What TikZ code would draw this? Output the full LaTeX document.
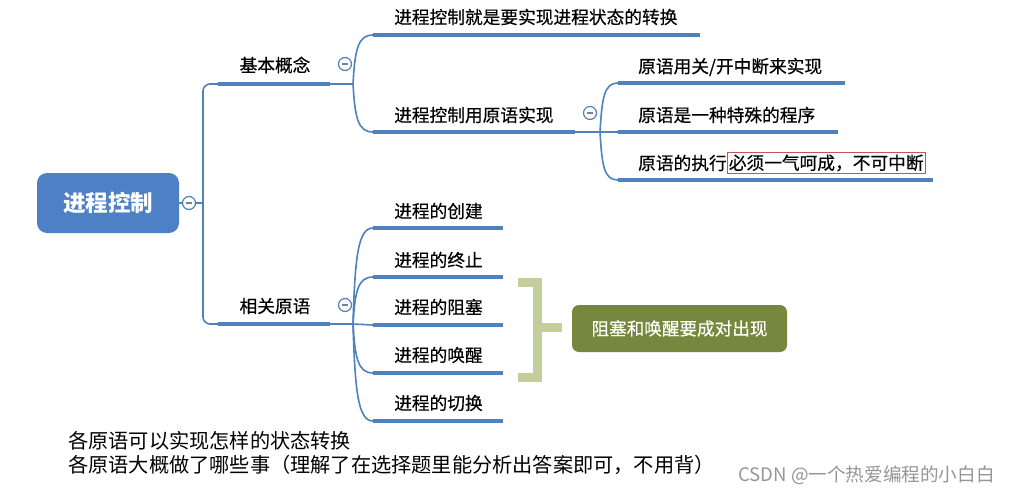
\documentclass[tikz,border=0pt]{standalone}
\usepackage{fontspec}
\setmainfont{Noto Sans CJK SC}
\newfontfamily\cjk{Noto Sans CJK SC}
\newfontfamily\cjkm{Noto Sans CJK SC}[FakeBold=0.4]
\definecolor{rootblue}{RGB}{77,128,196}
\definecolor{lineblue}{RGB}{79,129,189}
\definecolor{brgreen}{RGB}{196,206,156}
\definecolor{boxgreen}{RGB}{118,135,62}
\definecolor{redbox}{RGB}{196,86,86}
\definecolor{wmgray}{RGB}{150,150,150}
\tikzset{
  rootbox/.style={fill=rootblue, rounded corners=10pt, minimum width=142pt, minimum height=60pt, text=white, font=\cjk\fontsize{22.5}{26}\selectfont\bfseries, inner sep=0pt},
  greenbox/.style={fill=boxgreen, rounded corners=7pt, minimum width=215pt, minimum height=47pt, text=white, font=\cjkm\fontsize{17.6}{20}\selectfont, inner sep=0pt},
  lbl/.style={anchor=west, inner sep=0pt, font=\cjkm\fontsize{17.7}{20}\selectfont, text=black},
  clbl/.style={inner sep=0pt, font=\cjkm\fontsize{17.7}{20}\selectfont, text=black},
  note/.style={anchor=west, inner sep=0pt, font=\cjk\fontsize{20.2}{24}\selectfont, text=black},
  tog/.style={circle, draw=lineblue, line width=1.2pt, fill=white, minimum size=13pt, inner sep=0pt,
    path picture={\draw[line width=1.3pt, gray] ([xshift=-3.3pt]path picture bounding box.center) -- ([xshift=3.3pt]path picture bounding box.center);}},
  thinln/.style={draw=lineblue, line width=1.6pt},
  thickln/.style={draw=lineblue, line width=4.5pt},
  brk/.style={draw=brgreen, line width=9pt}
}
\begin{document}
\begin{tikzpicture}[x=1pt,y=-1pt]
\useasboundingbox (0,0) rectangle (1011,495);
\fill[white] (0,0) rectangle (1011,495);

% root
\node[rootbox] (root) at (108,203) {进程控制};
\node[tog] (t0) at (189,203) {};
\coordinate (v0) at (203,203);
\draw[thinln] (root.east) -- (t0.west);
\draw[thinln] (t0.east) -- (v0);

% level 1 coordinates
\coordinate (a1s) at (218,84);
\coordinate (a1e) at (330,84);
\coordinate (b1) at (353,84);
\coordinate (a2s) at (218,324);
\coordinate (a2e) at (330,324);
\coordinate (b3) at (353,324);
\draw[thinln, rounded corners=7pt] (a1s) -- (203,84) -- (203,324) -- (a2s);
\draw[thickln] (a1s) -- (a1e);
\draw[thinln] (a1e) -- (b1);
\draw[thickln] (a2s) -- (a2e);
\draw[thinln] (a2e) -- (b3);
\node[clbl] (n1) at (275,65) {基本概念};
\node[clbl] (n2) at (275,306) {相关原语};
\node[tog] (t1) at (345,64) {};
\node[tog] (t3) at (345,305) {};

% level 2 under 基本概念
\coordinate (u11s) at (373,35);
\coordinate (u11e) at (700,35);
\coordinate (u12s) at (373,132);
\coordinate (u12e) at (575,132);
\coordinate (b2) at (600,132);
\draw[thinln] (b1) .. controls +(2,-35) and +(-15,0) .. (u11s);
\draw[thinln] (b1) .. controls +(2,34) and +(-15,0) .. (u12s);
\draw[thickln] (u11s) -- (u11e);
\draw[thickln] (u12s) -- (u12e);
\draw[thinln] (u12e) -- (b2);
\node[lbl] (m11) at (394,17) {进程控制就是要实现进程状态的转换};
\node[lbl] (m12) at (394,115) {进程控制用原语实现};
\node[tog] (t2) at (590,113) {};

% level 3 under 进程控制用原语实现
\coordinate (w1s) at (618,83);
\coordinate (w1e) at (845,83);
\coordinate (w2s) at (618,132);
\coordinate (w2e) at (838,132);
\coordinate (w3s) at (618,180);
\coordinate (w3e) at (933,180);
\draw[thinln] (b2) .. controls +(2,-34) and +(-14,0) .. (w1s);
\draw[thinln] (b2) -- (w2s);
\draw[thinln] (b2) .. controls +(2,34) and +(-14,0) .. (w3s);
\draw[thickln] (w1s) -- (w1e);
\draw[thickln] (w2s) -- (w2e);
\draw[thickln] (w3s) -- (w3e);
\node[lbl] (p1) at (638,67) {原语用关/开中断来实现};
\node[lbl] (p2) at (638,115) {原语是一种特殊的程序};
\node[lbl] (p3) at (638,163) {原语的执行};
\node[lbl, draw=redbox, line width=0.9pt, inner xsep=1.5pt, inner ysep=2.5pt, anchor=west] (p3b) at (p3.east) {必须一气呵成，不可中断};

% level 2 under 相关原语
\coordinate (r1s) at (373,228);
\coordinate (r2s) at (373,277);
\coordinate (r3s) at (373,325);
\coordinate (r4s) at (373,373);
\coordinate (r5s) at (373,421);
\coordinate (r1e) at (503,228);
\coordinate (r2e) at (503,277);
\coordinate (r3e) at (503,325);
\coordinate (r4e) at (503,373);
\coordinate (r5e) at (503,421);
\draw[thinln] (b3) .. controls +(2,-67) and +(-15,0) .. (r1s);
\draw[thinln] (b3) .. controls +(2,-33) and +(-15,0) .. (r2s);
\draw[thinln] (b3) -- (r3s);
\draw[thinln] (b3) .. controls +(2,34) and +(-15,0) .. (r4s);
\draw[thinln] (b3) .. controls +(2,67) and +(-15,0) .. (r5s);
\foreach \i in {1,...,5} { \draw[thickln] (r\i s) -- (r\i e); }
\node[lbl] (q1) at (394,211) {进程的创建};
\node[lbl] (q2) at (394,260) {进程的终止};
\node[lbl] (q3) at (394,307) {进程的阻塞};
\node[lbl] (q4) at (394,355) {进程的唤醒};
\node[lbl] (q5) at (394,403) {进程的切换};

% bracket and note
\coordinate (k1) at (518,282);
\coordinate (k2) at (537,282);
\coordinate (k3) at (537,377);
\coordinate (k4) at (518,377);
\coordinate (km) at (537,327);
\coordinate (kt) at (562,327);
\draw[brk] (k1) -- (k2) -- (k3) -- (k4);
\draw[brk] (km) -- (kt);
\node[greenbox] (g) at (679.5,328.5) {阻塞和唤醒要成对出现};

% bottom notes
\node[note] (s1) at (68,441) {各原语可以实现怎样的状态转换};
\node[note] (s2) at (68,465) {各原语大概做了哪些事（理解了在选择题里能分析出答案即可，不用背）};
\node[anchor=west, inner sep=0pt, font=\cjk\fontsize{18.6}{22}\selectfont, text=wmgray] (wm) at (738,475) {CSDN @一个热爱编程的小白白};
\end{tikzpicture}
\end{document}
